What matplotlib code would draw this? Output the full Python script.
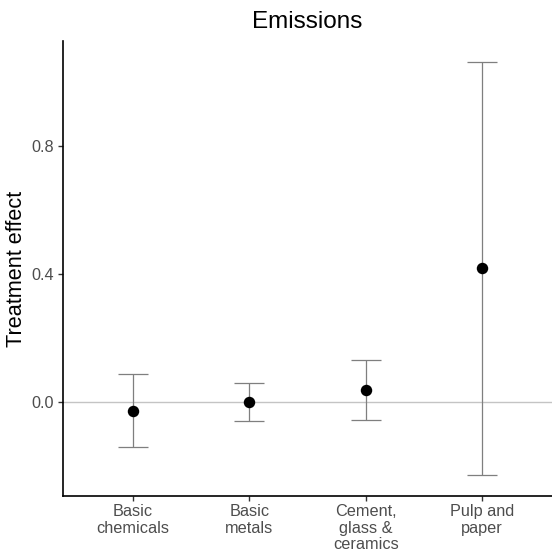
import numpy as np
import matplotlib
matplotlib.use("Agg")
import matplotlib.pyplot as plt

plt.rcParams["font.family"] = ["Liberation Sans", "DejaVu Sans"]

# ---- data ----
sectors = ["Basic\nchemicals", "Basic\nmetals", "Cement,\nglass &\nceramics", "Pulp and\npaper"]
effect = [-0.028, 0.000, 0.037, 0.419]
ci_low = [-0.141, -0.059, -0.056, -0.229]
ci_high = [0.087, 0.058, 0.131, 1.063]
y_ticks = [0.0, 0.4, 0.8]

fig = plt.figure(figsize=(5.52, 5.53), dpi=100)
ax = fig.add_axes([63 / 552, 1 - 496 / 553, (552 - 63) / 552, (496 - 41) / 553])

x = np.arange(1, len(sectors) + 1)
eff = np.array(effect)
lo = np.array(ci_low)
hi = np.array(ci_high)

ax.axhline(0, color="#c4c4c4", lw=1.0, zorder=1)
ax.errorbar(x, eff, yerr=[eff - lo, hi - eff], fmt="none", ecolor="#7f7f7f",
            elinewidth=0.9, capsize=11, capthick=0.9, zorder=2)
ax.scatter(x, eff, s=68, color="black", zorder=3, linewidths=0)

span = hi.max() - lo.min()
ax.set_xlim(0.4, len(sectors) + 0.6)
ax.set_ylim(lo.min() - 0.05 * span, hi.max() + 0.05 * span)

ax.set_xticks(x)
ax.set_xticklabels(sectors, fontsize=11.7, color="#4d4d4d", linespacing=1.1)
ax.set_yticks(y_ticks)
ax.set_yticklabels([f"{v:.1f}" for v in y_ticks], fontsize=11.7, color="#4d4d4d")
ax.tick_params(axis="both", length=3.5, width=1.0, color="#333333", pad=3)
ax.tick_params(axis="x", pad=2.5)

for side in ["top", "right"]:
    ax.spines[side].set_visible(False)
for side in ["left", "bottom"]:
    ax.spines[side].set_linewidth(1.2)
    ax.spines[side].set_color("black")

ax.set_ylabel("Treatment effect", fontsize=15.6, labelpad=3)
ax.set_title("Emissions", fontsize=17.5, pad=9)

fig.savefig("out.png", dpi=100)
